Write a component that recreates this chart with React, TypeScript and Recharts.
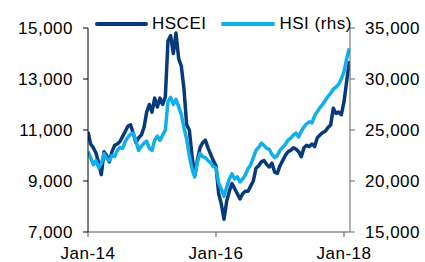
import { LineChart, Line, XAxis, YAxis } from 'recharts';

// semi-monthly readings, Jan 2014 -> end Jan 2018
const hscei = [
    10930, 10450, 10300, 10100, 9700, 9250, 10150, 10000, 9750, 10150,
    10400, 10450, 10550, 10750, 10950, 11150, 11200, 10850, 10500, 10700,
    10800, 11100, 11700, 12000, 11700, 12250, 11900, 12250, 12000, 12300,
    14500, 14700, 14000, 14800, 13800, 13500, 12600, 11200, 11000, 10000,
    9200, 9800, 10300, 10500, 10600, 10300, 10050, 9800, 9600, 8500,
    8100, 7500, 8200, 8600, 8900, 8700, 8500, 8300, 8500, 8600,
    8600, 8800, 9000, 9500, 9600, 9750, 9800, 9650, 9550, 9700,
    9350, 9300, 9600, 9800, 10000, 10150, 10200, 10300, 10250, 10150,
    9950, 10300, 10400, 10350, 10450, 10350, 10700, 10800, 10900, 10950,
    11100, 11200, 11850, 11650, 11700, 11600, 12100, 12900, 13700,
];

const hsi = [
    22900, 22300, 21600, 22000, 21300, 21700, 22700, 22200, 22000, 22500,
    22400, 23000, 23300, 23200, 23900, 24300, 24600, 24700, 23900, 23000,
    23400, 23700, 23900, 23200, 23000, 24000, 24400, 24000, 24500, 25000,
    27800, 28200, 27500, 28000, 27300, 26500, 25200, 24100, 22500, 21200,
    20400, 21800, 22700, 22400, 22300, 22000, 21800, 21400, 21300, 19800,
    19200, 18500, 19400, 20200, 20700, 20200, 20400, 19900, 20200, 20600,
    21200, 21600, 22300, 23000, 23300, 23700, 23500, 23200, 23100, 22600,
    22300, 22500, 23000, 23300, 23600, 24000, 24200, 24500, 24700, 24300,
    24900, 25300, 25600, 25800, 25700, 26400, 26800, 27200, 27500, 27900,
    28300, 28600, 29000, 29200, 29500, 30000, 30700, 32000, 33000,
];

const xTicks = [2014, 2016, 2018];
const xLabels = ['Jan-14', 'Jan-16', 'Jan-18'];
const leftTicks = [7000, 9000, 11000, 13000, 15000];
const rightTicks = [15000, 20000, 25000, 30000, 35000];

const DARK = '#063a7a';
const LIGHT = '#10aeea';
const FONT = '"Liberation Sans", Arial, sans-serif';

const data = hscei.map((v, i) => ({ t: 2014 + i / 24, hscei: v, hsi: hsi[i] }));

const fmt = (v: number) => v.toLocaleString('en-US');
const tickStyle = { fill: '#000', fontSize: 17, fontFamily: FONT, letterSpacing: 0.5 };

export default function App() {
    return (
        <div style={{ position: 'absolute', left: 0, top: 0, width: 425, height: 262, background: '#fff' }}>
            <LineChart width={425} height={262} data={data} margin={{ top: 28, right: 0, bottom: 0, left: 0 }}>
                <XAxis
                    dataKey="t"
                    type="number"
                    domain={[2014, 2018.094]}
                    ticks={xTicks}
                    tickFormatter={(v: number) => xLabels[xTicks.indexOf(v)]}
                    height={30}
                    stroke="#555"
                    tickSize={5}
                    tickMargin={10}
                    tick={tickStyle}
                    interval={0}
                    allowDataOverflow
                />
                <YAxis
                    yAxisId="l"
                    domain={[7000, 15000]}
                    ticks={leftTicks}
                    tickFormatter={fmt}
                    width={88}
                    stroke="#000"
                    tickSize={5}
                    tickMargin={10}
                    tick={tickStyle}
                    interval={0}
                />
                <YAxis
                    yAxisId="r"
                    orientation="right"
                    domain={[15000, 35000]}
                    ticks={rightTicks}
                    tickFormatter={fmt}
                    width={75}
                    stroke="#666"
                    tickSize={5}
                    tickMargin={10}
                    tick={tickStyle}
                    interval={0}
                />
                <Line yAxisId="l" dataKey="hscei" stroke={DARK} strokeWidth={3.5} strokeLinejoin="round" dot={false} isAnimationActive={false} />
                <Line yAxisId="r" dataKey="hsi" stroke={LIGHT} strokeWidth={3.5} strokeLinejoin="round" dot={false} isAnimationActive={false} />
            </LineChart>

            {/* legend sits over the top of the plot */}
            <div style={{ position: 'absolute', left: 95, top: 13, display: 'flex', alignItems: 'center', fontFamily: FONT, fontSize: 17, letterSpacing: 0.5, lineHeight: '22px' }}>
                <span style={{ width: 53, height: 4, background: DARK, borderRadius: 2 }} />
                <span style={{ marginLeft: 4 }}>HSCEI</span>
                <span style={{ width: 54, height: 4, background: LIGHT, borderRadius: 2, marginLeft: 15 }} />
                <span style={{ marginLeft: 4 }}>HSI (rhs)</span>
            </div>
        </div>
    );
}
